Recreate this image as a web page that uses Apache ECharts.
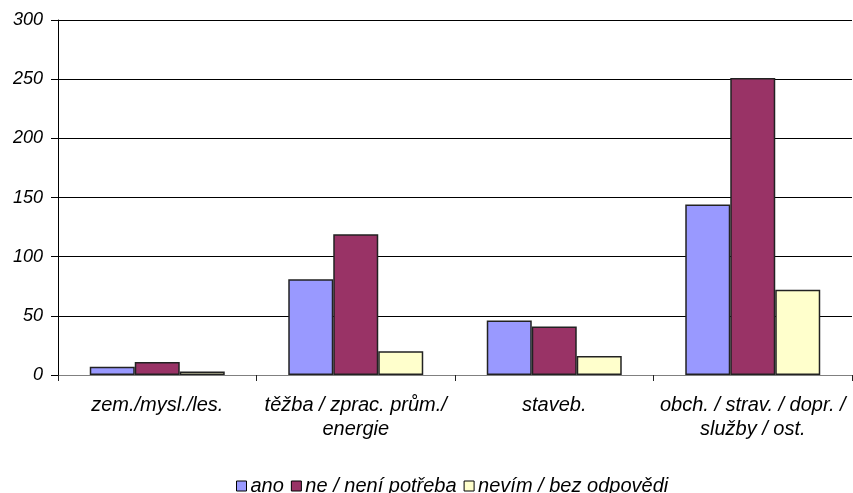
<!DOCTYPE html>
<html>
<head>
<meta charset="utf-8">
<script src="https://cdn.jsdelivr.net/npm/echarts@6/dist/echarts.min.js"></script>
<style>
	html, body { margin: 0; padding: 0; background: #fff; }
	#chart { width: 853px; height: 493px; }
</style>
</head>
<body>
<div id="chart"></div>
<script>
const categories = [
	'zem./mysl./les.',
	'těžba / zprac. prům./\nenergie',
	'staveb.',
	'obch. / strav. / dopr. /\nslužby / ost.'
]
const seriesNames = ['ano', 'ne / není potřeba', 'nevím / bez odpovědi']
const ano = [7, 81, 46, 144]
const ne = [11, 119, 41, 251]
const nevim = [3, 20, 16, 72]
const colors = ['#9999ff', '#993366', '#ffffcc']

const node = document.getElementById('chart')
const myChart = echarts.init(node)

const font = 'Liberation Sans, Arial, sans-serif'

const makeSeries = (name, data, color) => ({
	name: name,
	type: 'bar',
	data: data,
	barGap: 0,
	barCategoryGap: '32%',
	itemStyle: {
		color: color,
		borderColor: '#222',
		borderWidth: 1.5
	}
})

const option = {
	animation: false,
	textStyle: { fontFamily: font },
	grid: {
		left: 58,
		right: 1,
		top: 20,
		bottom: 118
	},
	legend: {
		top: 476,
		left: 236,
		padding: 0,
		itemWidth: 10,
		itemHeight: 10,
		itemGap: 7,
		textStyle: {
			fontFamily: font,
			fontStyle: 'italic',
			fontSize: 20,
			color: '#000',
			padding: [0, 0, 0, -1]
		},
		data: seriesNames.map(n => ({
			name: n,
			icon: 'rect',
			itemStyle: { borderColor: '#000', borderWidth: 1 }
		}))
	},
	xAxis: {
		type: 'category',
		data: categories,
		axisLine: { lineStyle: { color: '#808080', width: 1 } },
		axisTick: { show: true, interval: 0, length: 6, lineStyle: { color: '#222' } },
		axisLabel: {
			interval: 0,
			hideOverlap: false,
			fontFamily: font,
			fontStyle: 'italic',
			fontSize: 20,
			color: '#000',
			margin: 18,
			lineHeight: 24
		}
	},
	yAxis: {
		type: 'value',
		min: 0,
		max: 300,
		interval: 50,
		axisLine: { show: true, lineStyle: { color: '#000' } },
		axisTick: { show: true, length: 7, lineStyle: { color: '#000' } },
		axisLabel: {
			fontFamily: font,
			fontStyle: 'italic',
			fontSize: 18,
			color: '#000',
			margin: 15
		},
		splitLine: { lineStyle: { color: '#000', width: 1 } }
	},
	series: [
		makeSeries(seriesNames[0], ano, colors[0]),
		makeSeries(seriesNames[1], ne, colors[1]),
		makeSeries(seriesNames[2], nevim, colors[2])
	]
}

myChart.setOption(option)
</script>
</body>
</html>
